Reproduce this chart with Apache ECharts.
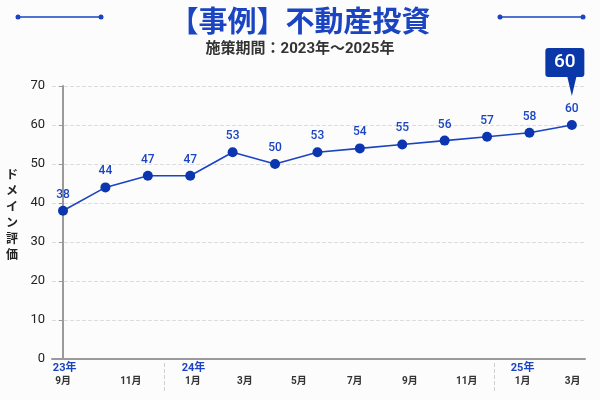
<!DOCTYPE html>
<html>
<head>
<meta charset="utf-8">
<script src="https://cdn.jsdelivr.net/npm/echarts@6/dist/echarts.min.js"></script>
<style>
  html, body { margin: 0; padding: 0; background: #fcfcfc; }
  #chart { width: 600px; height: 400px; }
</style>
</head>
<body>
<div id="chart"></div>
<script>
// Data
const scores = [38, 44, 47, 47, 53, 50, 53, 54, 55, 56, 57, 58, 60];

// x positions (in data-point index units) of the month/year labels
const monthLabels = ['9月', '11月', '1月', '3月', '5月', '7月', '9月', '11月', '1月', '3月'];
const monthPos = [0, 1.6, 3.06, 4.29, 5.56, 6.88, 8.18, 9.52, 10.84, 12.02];
const yearLabels = ['23年', '24年', '25年'];
const yearPos = [-0.24, 2.8, 10.56];
const yearSplitPos = [2.38, 10.18];

const BLUE = '#1a44c2';
const DARK_BLUE = '#0a38a8';
const FONT = 'Roboto, "Noto Sans CJK JP", sans-serif';
const JP_FONT = '"Noto Sans CJK JP", sans-serif';

const X_MIN = -0.26;
const X_MAX = 12.31;

const chart = echarts.init(document.getElementById('chart'));

const option = {
    backgroundColor: '#fcfcfc',
    textStyle: { fontFamily: FONT },
    title: {
        text: '【事例】不動産投資',
        subtext: '施策期間：2023年〜2025年',
        left: 'center',
        top: 1,
        itemGap: 7,
        textStyle: { color: BLUE, fontSize: 29, fontWeight: 'bold', fontFamily: JP_FONT },
        subtextStyle: { color: '#333', fontSize: 15, fontWeight: 'bold', fontFamily: FONT }
    },
    // decorative lines beside the title
    graphic: [
        { type: 'line', shape: { x1: 18, y1: 17, x2: 101, y2: 17 }, style: { stroke: BLUE, lineWidth: 1.5 } },
        { type: 'circle', shape: { cx: 18, cy: 17, r: 2.5 }, style: { fill: BLUE } },
        { type: 'circle', shape: { cx: 101, cy: 17, r: 2.5 }, style: { fill: BLUE } },
        { type: 'line', shape: { x1: 500, y1: 17, x2: 583, y2: 17 }, style: { stroke: BLUE, lineWidth: 1.5 } },
        { type: 'circle', shape: { cx: 500, cy: 17, r: 2.5 }, style: { fill: BLUE } },
        { type: 'circle', shape: { cx: 583, cy: 17, r: 2.5 }, style: { fill: BLUE } }
    ],
    grid: { left: 52, right: 15, top: 86, bottom: 41 },
    xAxis: [
        {
            type: 'value',
            min: X_MIN,
            max: X_MAX,
            axisLine: { show: true, lineStyle: { color: '#9a9a9a', width: 2 } },
            axisTick: { show: false },
            splitLine: { show: false },
            axisLabel: {
                customValues: monthPos,
                margin: 17,
                color: '#333',
                fontSize: 10,
                fontWeight: 'bold',
                formatter: (v) => {
                    const i = monthPos.indexOf(v);
                    return i >= 0 ? monthLabels[i] : '';
                }
            }
        },
        {
            type: 'value',
            min: X_MIN,
            max: X_MAX,
            position: 'bottom',
            offset: 4,
            axisLine: { show: false },
            splitLine: { show: false },
            axisTick: {
                show: true,
                customValues: yearSplitPos,
                length: 28,
                lineStyle: { color: '#cfcfcf', type: 'dashed', width: 1 }
            },
            axisLabel: {
                customValues: yearPos,
                margin: 0,
                align: 'left',
                color: BLUE,
                fontSize: 11,
                fontWeight: 'bold',
                formatter: (v) => {
                    const i = yearPos.indexOf(v);
                    return i >= 0 ? yearLabels[i] : '';
                }
            }
        }
    ],
    yAxis: {
        type: 'value',
        min: 0,
        max: 70,
        interval: 10,
        name: 'ド\nメ\nイ\nン\n評\n価\n',
        nameLocation: 'middle',
        nameRotate: 0,
        nameGap: 34,
        nameTextStyle: { color: '#222', fontSize: 12, fontWeight: 'bold', lineHeight: 16, fontFamily: JP_FONT },
        axisLine: { show: true, lineStyle: { color: '#9a9a9a', width: 2 } },
        axisTick: { show: true, length: 4, lineStyle: { color: '#9a9a9a' } },
        axisLabel: { color: '#222', fontSize: 13, margin: 7 },
        splitLine: { show: true, lineStyle: { color: '#dcdcdc', type: 'dashed' } }
    },
    series: [
        {
            type: 'line',
            xAxisIndex: 0,
            data: scores.map((v, i) => [i, v]),
            symbol: 'circle',
            symbolSize: 10,
            lineStyle: { color: BLUE, width: 1.6 },
            itemStyle: { color: '#0b36b0' },
            label: {
                show: true,
                position: 'top',
                distance: 5,
                color: BLUE,
                fontSize: 12,
                fontWeight: 500,
                formatter: (p) => p.value[1]
            },
            markPoint: {
                data: [{ coord: [scores.length - 1, scores[scores.length - 1]], value: scores[scores.length - 1] }],
                symbol: 'path://M3,0 H36 Q39,0 39,3 V26 Q39,29 36,29 H31 L26.5,48 L22,29 H3 Q0,29 0,26 V3 Q0,0 3,0 Z',
                symbolSize: [39, 48],
                symbolOffset: [-7, -53],
                itemStyle: { color: DARK_BLUE },
                label: {
                    show: true,
                    color: '#fff',
                    fontSize: 19,
                    fontWeight: 500,
                    offset: [0, -9.5],
                    formatter: (p) => p.value
                }
            }
        }
    ]
};

chart.setOption(option);
</script>
</body>
</html>
